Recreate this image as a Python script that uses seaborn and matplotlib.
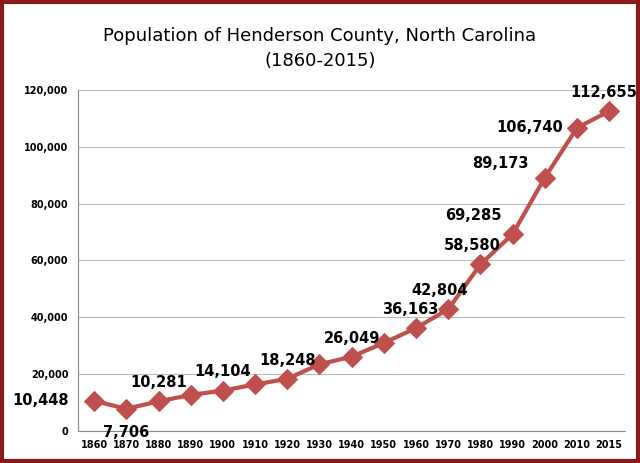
import matplotlib
matplotlib.use('Agg')
import matplotlib.pyplot as plt
import seaborn as sns
import pandas as pd
from matplotlib.patches import Rectangle

years = ['1860', '1870', '1880', '1890', '1900', '1910', '1920', '1930',
         '1940', '1950', '1960', '1970', '1980', '1990', '2000', '2010', '2015']
population = [10448, 7706, 10281, 12589, 14104, 16262, 18248, 23404,
              26049, 30921, 36163, 42804, 58580, 69285, 89173, 106740, 112655]
labelled = {0: (-18, 0, 'right', 'center'), 1: (0, -12, 'center', 'top'),
            2: (0, 8, 'center', 'bottom'), 4: (0, 8, 'center', 'bottom'),
            6: (0, 8, 'center', 'bottom'), 8: (0, 8, 'center', 'bottom'),
            10: (-4, 8, 'center', 'bottom'), 11: (-6, 8, 'center', 'bottom'),
            12: (-6, 8, 'center', 'bottom'), 13: (-8, 8, 'right', 'bottom'),
            14: (-12, 5, 'right', 'bottom'), 15: (-10, 0, 'right', 'center'),
            16: (-4, 8, 'center', 'bottom')}

df = pd.DataFrame({'year': years, 'pop': population})
df['x'] = range(len(years))

sns.set_style('white')
plt.rcParams['font.family'] = ['DejaVu Sans']
plt.rcParams['text.color'] = 'black'
plt.rcParams['xtick.color'] = 'black'
plt.rcParams['ytick.color'] = 'black'
fig = plt.figure(figsize=(6.4, 4.63), dpi=100)
ax = fig.add_axes([0.122, 0.07, 0.855, 0.735])
sns.lineplot(data=df, x='x', y='pop', ax=ax, color='#c0504d', linewidth=3,
             marker='D', markersize=10, markeredgecolor='#c0504d')
ax.set_xlim(-0.5, len(years) - 0.5)
ax.set_ylim(0, 120000)
ax.set_yticks(range(0, 120001, 20000))
ax.set_yticklabels([f'{v:,}' for v in range(0, 120001, 20000)], fontsize=7, fontweight='bold')
ax.set_xticks(df['x'])
ax.set_xticklabels(years, fontsize=7, fontweight='bold')
ax.grid(axis='y', color='#bbbbbb', linewidth=0.8)
ax.set_xlabel('')
ax.set_ylabel('')
for s in ['top', 'right']:
    ax.spines[s].set_visible(False)
for s in ['left', 'bottom']:
    ax.spines[s].set_color('#888888')
for i, (dx, dy, ha, va) in labelled.items():
    ax.annotate(f'{population[i]:,}', (i, population[i]), xytext=(dx, dy),
                textcoords='offset points', ha=ha, va=va, fontsize=10.5,
                fontweight='bold', color='black')
fig.text(0.5, 0.895, 'Population of Henderson County, North Carolina\n(1860-2015)',
         ha='center', va='center', fontsize=13, linespacing=1.5, color='black')
fig.patches.append(Rectangle((0.003, 0.004), 0.994, 0.992, transform=fig.transFigure,
                             fill=False, edgecolor='#8b1a1a', linewidth=3))
fig.savefig('out.png', dpi=100)
